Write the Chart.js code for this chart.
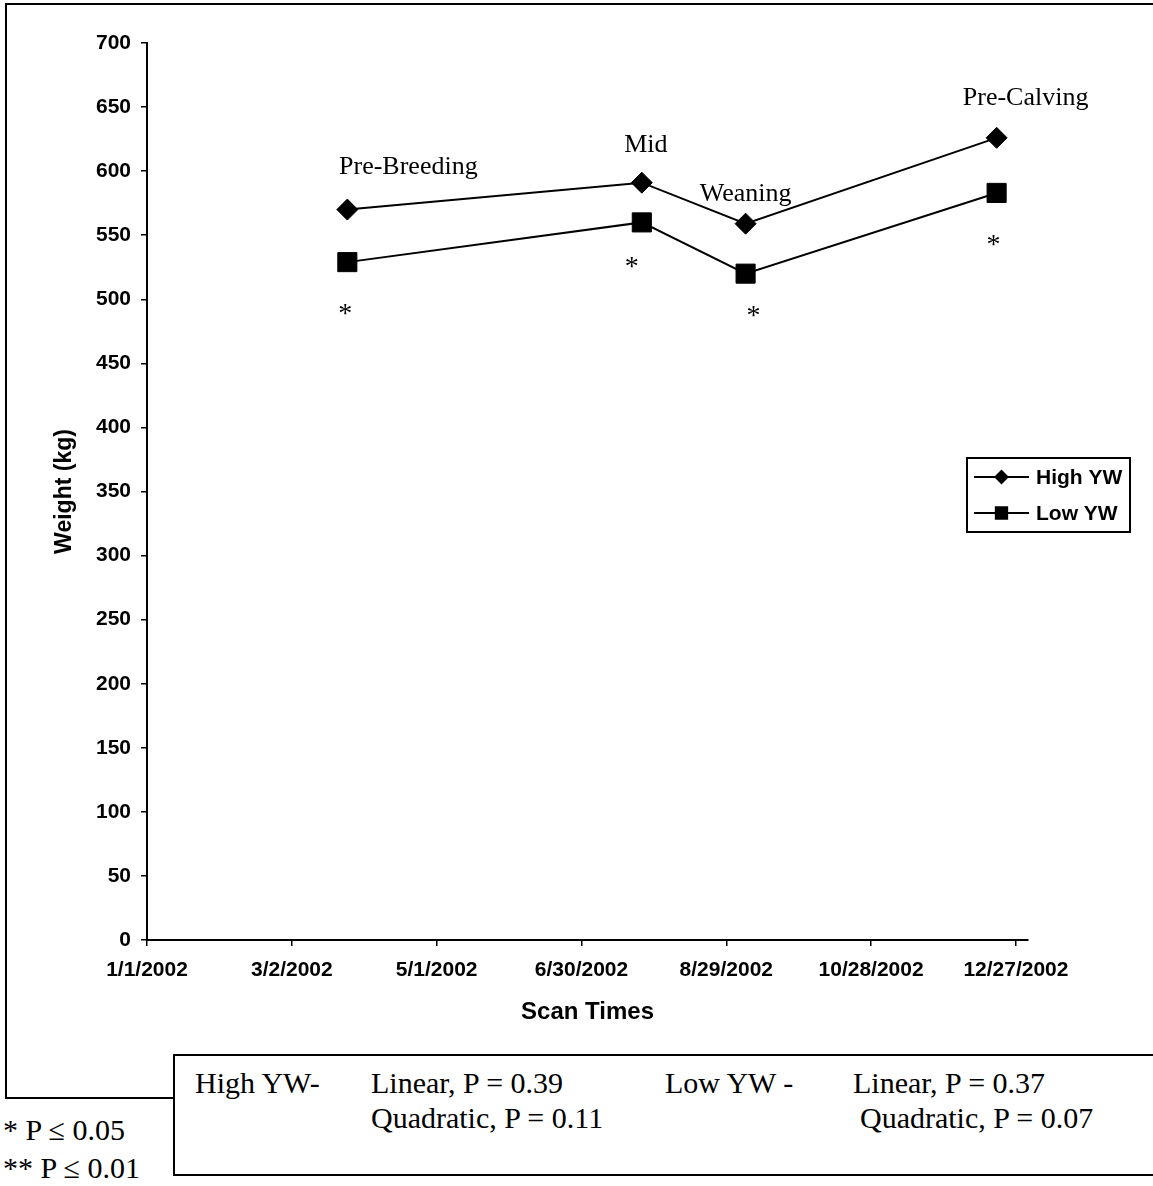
<!DOCTYPE html>
<html>
<head>
<meta charset="utf-8">
<script src="https://cdn.jsdelivr.net/npm/chart.js@4/dist/chart.umd.min.js"></script>
<style>
  body { margin: 0; background: #fff; width: 1153px; height: 1186px; overflow: hidden; position: relative; font-family: "Liberation Serif", "Times New Roman", serif; }
  #frame { position: absolute; left: 5px; top: 3px; width: 1200px; height: 1096px; border: 2px solid #000; box-sizing: border-box; }
  #wrap { position: absolute; left: 0; top: 0; width: 1153px; height: 1040px; }
  #stats { position: absolute; left: 173px; top: 1054px; width: 1000px; height: 122px; border: 2px solid #000; box-sizing: border-box; background: #fff; }
  .t { position: absolute; font-size: 30px; line-height: 30px; white-space: nowrap; color: #000; }
</style>
</head>
<body>
<div id="frame"></div>
<div id="wrap"><canvas id="weights" width="1153" height="1040"></canvas></div>
<div id="stats">
  <div class="t" style="left:20px;top:12px">High YW-</div>
  <div class="t" style="left:196px;top:12px">Linear, P = 0.39</div>
  <div class="t" style="left:196px;top:47px">Quadratic, P = 0.11</div>
  <div class="t" style="left:490px;top:12px">Low YW -</div>
  <div class="t" style="left:678px;top:12px">Linear, P = 0.37</div>
  <div class="t" style="left:685px;top:47px">Quadratic, P = 0.07</div>
</div>
<div class="t" style="left:3px;top:1115px">* P &le; 0.05</div>
<div class="t" style="left:3px;top:1153px">** P &le; 0.01</div>

<script>
// scan dates and mean body weight (kg) for each group
var scanDates = ['3/25/2002', '7/25/2002', '9/6/2002', '12/19/2002'];
var scanNames = ['Pre-Breeding', 'Mid', 'Weaning', 'Pre-Calving'];
var highYW = [570, 591, 559, 626];
var lowYW = [529, 560, 520, 583];
// significance marks under the Low YW points
var lowStars = ['*', '*', '*', '*'];

var yearStart = Date.UTC(2002, 0, 1);
var DAY = 86400000;

// days since 1/1/2002, used on the linear x axis
function toDay(s) {
  var p = s.split('/');
  return (Date.UTC(+p[2], +p[0] - 1, +p[1]) - yearStart) / DAY;
}
function dayLabel(v) {
  var d = new Date(yearStart + v * DAY);
  return (d.getUTCMonth() + 1) + '/' + d.getUTCDate() + '/' + d.getUTCFullYear();
}

var scanDays = scanDates.map(toDay);
function points(vals) {
  return vals.map(function (v, i) { return { x: scanDays[i], y: v }; });
}

var sans = '"Liberation Sans", Arial, sans-serif';
var serif = '"Liberation Serif", "Times New Roman", serif';

// label offsets from the High YW point, and star offsets from the Low YW point
var nameOffsets = [[61, -36], [4, -31], [0, -23], [29, -33]];
var starOffsets = [[-2, 47], [-10, 39], [8, 37], [-3, 47]];

var annotations = {
  id: 'annotations',
  afterDatasetsDraw: function (chart) {
    var ctx = chart.ctx;
    var hi = chart.getDatasetMeta(0).data;
    var lo = chart.getDatasetMeta(1).data;
    ctx.save();
    ctx.fillStyle = '#000';
    ctx.textAlign = 'center';
    ctx.textBaseline = 'alphabetic';
    ctx.font = '26px ' + serif;
    scanNames.forEach(function (name, i) {
      ctx.fillText(name, hi[i].x + nameOffsets[i][0], hi[i].y + nameOffsets[i][1]);
    });
    ctx.textBaseline = 'middle';
    ctx.font = '28px ' + serif;
    lowStars.forEach(function (s, i) {
      ctx.fillText(s, lo[i].x + starOffsets[i][0], lo[i].y + starOffsets[i][1] + 6);
    });
    ctx.restore();
  }
};

// boxed legend sitting on the right of the plot
var boxLegend = {
  id: 'boxLegend',
  afterDraw: function (chart) {
    var ctx = chart.ctx;
    var bx = 967, by = 458, bw = 163, bh = 74;
    ctx.save();
    ctx.fillStyle = '#fff';
    ctx.fillRect(bx, by, bw, bh);
    ctx.lineWidth = 2;
    ctx.strokeStyle = '#000';
    ctx.strokeRect(bx, by, bw, bh);
    var rows = [
      { y: by + 19, style: 'rectRot', r: 6 },
      { y: by + 55, style: 'rect', r: 8 }
    ];
    chart.data.datasets.forEach(function (ds, i) {
      var row = rows[i];
      ctx.beginPath();
      ctx.lineWidth = 2;
      ctx.moveTo(bx + 7, row.y);
      ctx.lineTo(bx + 62, row.y);
      ctx.stroke();
      ctx.fillStyle = '#000';
      Chart.helpers.drawPoint(ctx, { pointStyle: row.style, radius: row.r, rotation: 0, borderWidth: 1 }, bx + 34.5, row.y);
      ctx.fillStyle = '#000';
      ctx.font = 'bold 21px ' + sans;
      ctx.textAlign = 'left';
      ctx.textBaseline = 'middle';
      ctx.fillText(ds.label, bx + 69, row.y + 1);
    });
    ctx.restore();
  }
};

new Chart(document.getElementById('weights').getContext('2d'), {
  type: 'line',
  data: {
    datasets: [{
      label: 'High YW',
      data: points(highYW),
      borderColor: '#000',
      borderWidth: 2,
      backgroundColor: '#000',
      pointStyle: 'rectRot',
      pointRadius: 10.5,
      pointBorderWidth: 1,
      pointBorderColor: '#000',
      pointBackgroundColor: '#000',
      tension: 0
    }, {
      label: 'Low YW',
      data: points(lowYW),
      borderColor: '#000',
      borderWidth: 2,
      backgroundColor: '#000',
      pointStyle: 'rect',
      pointRadius: 13.5,
      pointBorderWidth: 1,
      pointBorderColor: '#000',
      pointBackgroundColor: '#000',
      tension: 0
    }]
  },
  options: {
    responsive: false,
    animation: false,
    events: [],
    layout: { padding: { left: 51, top: 43, right: 125, bottom: 13 } },
    plugins: {
      legend: { display: false },
      tooltip: { enabled: false }
    },
    scales: {
      x: {
        type: 'linear',
        min: 0,
        max: 365,
        afterFit: function (scale) { scale.height = 87; },
        ticks: {
          stepSize: 60,
          includeBounds: false,
          autoSkip: false,
          maxRotation: 0,
          padding: 12,
          color: '#000',
          font: { family: sans, size: 21, weight: 'bold' },
          callback: function (v) { return dayLabel(v); }
        },
        grid: { drawOnChartArea: false, tickLength: 6, color: '#000', lineWidth: 1.5 },
        border: { color: '#000', width: 2 },
        title: {
          display: true,
          text: 'Scan Times',
          color: '#000',
          padding: 0,
          font: { family: sans, size: 24, weight: 'bold' }
        }
      },
      y: {
        min: 0,
        max: 700,
        afterFit: function (scale) { scale.width = 96; },
        ticks: {
          stepSize: 50,
          padding: 10,
          color: '#000',
          font: { family: sans, size: 21, weight: 'bold' }
        },
        grid: { drawOnChartArea: false, tickLength: 6, color: '#000', lineWidth: 1.5 },
        border: { color: '#000', width: 2 },
        title: {
          display: true,
          text: 'Weight (kg)',
          color: '#000',
          padding: 0,
          font: { family: sans, size: 23, weight: 'bold' }
        }
      }
    }
  },
  plugins: [annotations, boxLegend]
});
</script>
</body>
</html>
